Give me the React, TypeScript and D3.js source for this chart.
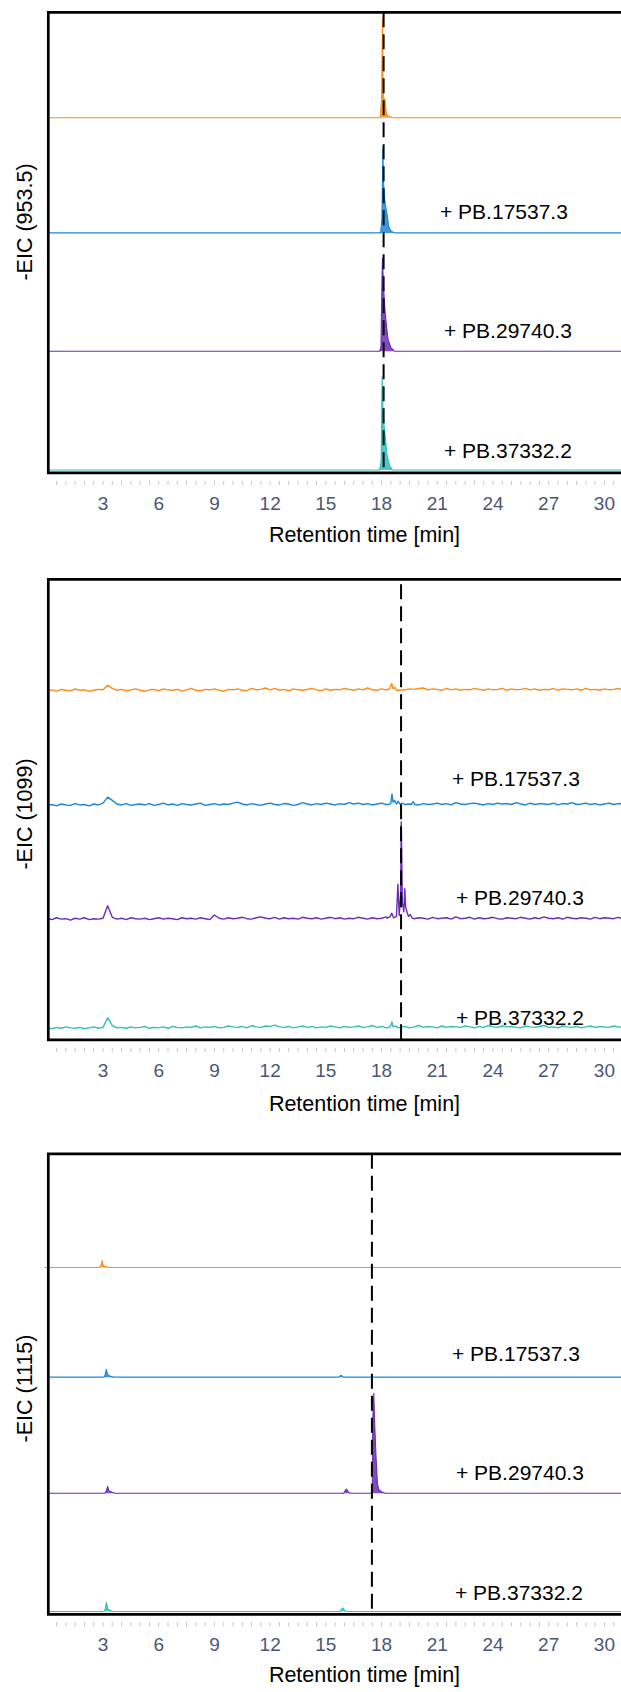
import React from "react";
import * as d3 from "d3";

// ---------- data ----------
const SAMPLE_LABELS = ["", "+ PB.17537.3", "+ PB.29740.3", "+ PB.37332.2"];
const SAMPLE_COLORS = ["#ff8c1a", "#1b87d6", "#6a2db5", "#30c0bd"];
const PANEL_TITLES = ["-EIC (953.5)", "-EIC (1099)", "-EIC (1115)"];
const X_TICKS = [3, 6, 9, 12, 15, 18, 21, 24, 27, 30];
const X_DOMAIN = [0, 34.2];
const MARKER_RT = [18.11, 19.05, 17.48];

// trace baseline levels (stack offsets, intensity units)
const P1_BASE = [771, 521, 264, 6];
const P2_BASE = [754, 506, 258, 22];
const P3_BASE = [753, 515, 263, 6];

// panel 1 peaks [rt, intensity above baseline]
const P1_PEAKS = [
  [[[17.93, 0], [18.0, 40], [18.05, 217], [18.08, 60], [18.12, 38], [18.18, 41], [18.24, 15], [18.32, 5], [18.45, 2], [18.6, 0]]],
  [[[17.95, 0], [18.02, 30], [18.07, 183], [18.1, 114], [18.15, 80], [18.22, 56], [18.3, 40], [18.38, 15], [18.5, 4], [18.7, 0]]],
  [[[17.9, 0], [17.97, 10], [18.02, 150], [18.05, 202], [18.1, 143], [18.18, 90], [18.25, 60], [18.35, 25], [18.5, 8], [18.7, 0]]],
  [[[17.9, 0], [17.98, 20], [18.03, 203], [18.08, 123], [18.15, 90], [18.22, 65], [18.3, 30], [18.45, 8], [18.6, 0]]],
];

// panel 2 noisy baselines, sampled every 0.25 min
const P2_STEP = 0.25;
const P2_NOISE_ORANGE = [4,6,3,7,5,4,8,5,6,3,5,7,6,16,9,5,7,4,6,8,5,3,6,7,4,8,6,5,7,3,6,9,5,4,7,6,8,5,3,7,6,8,5,4,9,6,7,10,6,9,5,7,4,8,6,5,7,9,6,4,8,5,7,6,9,7,5,8,6,10,6,5,8,6,7,9,5,6,8,7,9,10,6,8,7,5,9,6,8,5,7,6,9,7,5,8,6,7,9,5,8,6,7,9,6,8,5,7,6,9,5,8,7,6,8,5,9,6,7,5,8,6,7,9,5,8,6,7,5,8,6,7,9,6,8,5,7,6,8,5,7];
const P2_NOISE_BLUE = [3,5,2,6,4,3,7,4,5,2,6,4,8,21,14,6,4,7,3,5,6,4,7,3,5,8,4,6,3,7,5,4,6,8,3,5,7,4,6,5,8,10,6,4,7,5,3,6,8,5,4,7,6,3,5,9,6,4,7,5,8,6,4,7,5,9,6,8,5,7,4,6,8,5,7,6,9,5,6,8,4,7,5,6,8,5,7,4,9,6,5,7,8,6,4,7,5,8,6,7,5,9,6,4,8,5,7,6,5,8,4,7,6,9,5,6,8,5,7,4,6,8,5,7,6,5,8,6,4,7,5,8,6,7,5,6,8,5,7,4,6];
const P2_NOISE_PURPLE = [6,3,7,4,5,2,6,4,7,3,5,4,6,33,8,4,6,3,7,5,4,6,3,5,7,4,6,5,3,7,5,6,4,7,5,3,13,6,4,7,5,6,8,5,4,7,9,6,5,8,4,7,5,6,4,8,6,5,7,4,6,8,5,7,4,6,5,8,6,4,7,5,6,9,5,7,4,6,8,5,7,6,4,8,5,6,7,4,9,5,6,8,4,7,5,6,8,5,4,7,6,5,8,6,4,7,5,9,6,5,7,4,8,6,5,7,6,4,8,5,7,6,5,8,4,6,7,5,8,6,4,7,5,6,8,5,7];
const P2_NOISE_TEAL = [4,2,5,3,6,4,3,5,2,4,6,3,5,26,9,4,5,3,6,4,5,7,3,5,4,6,3,7,5,4,6,5,8,4,6,5,7,4,5,8,6,5,7,4,9,6,5,8,7,10,6,5,7,4,6,8,5,7,4,6,5,8,6,4,7,5,6,8,5,6,9,5,7,4,8,6,5,7,4,6,9,5,7,6,4,8,5,7,6,5,8,6,4,7,5,9,6,5,8,6,7,5,4,8,6,5,7,9,5,6,4,8,6,5,7,4,6,8,5,7,6,5,8,6,4,7,5,6,8,5,7,4,6,8,5,6];
const P2_NOISE = [P2_NOISE_ORANGE, P2_NOISE_BLUE, P2_NOISE_PURPLE, P2_NOISE_TEAL];
const P2_PEAKS = [
  [[[18.35, 6], [18.45, 10], [18.55, 20], [18.62, 8], [18.7, 12], [18.8, 5]]],
  [[[18.4, 5], [18.5, 8], [18.56, 28], [18.62, 10], [18.7, 14], [18.8, 6], [18.9, 12], [19.0, 5], [19.1, 8]], [[19.6, 5], [19.7, 11], [19.8, 5]]],
  [[[18.3, 6], [18.45, 9], [18.55, 17], [18.65, 7], [18.8, 10], [18.88, 80], [18.95, 12], [19.03, 60], [19.06, 215], [19.12, 40], [19.2, 20], [19.25, 70], [19.3, 30], [19.38, 18], [19.45, 10], [19.55, 14], [19.65, 6]]],
  [[[18.4, 5], [18.5, 9], [18.56, 17], [18.62, 6], [18.75, 8], [18.9, 4]]],
];

// panel 3 peaks
const P3_PEAKS = [
  [[[2.8, 0], [2.9, 6], [2.95, 15], [3.02, 4], [3.15, 2], [3.3, 0]]],
  [[[3.05, 0], [3.12, 6], [3.18, 17], [3.25, 5], [3.4, 2], [3.55, 0]], [[15.7, 0], [15.83, 4], [15.95, 0]]],
  [[[3.1, 0], [3.18, 5], [3.25, 15], [3.32, 5], [3.5, 2], [3.65, 0]], [[15.95, 0], [16.1, 9], [16.25, 1], [16.4, 0]],
   [[17.45, 0], [17.5, 6], [17.53, 160], [17.58, 217], [17.63, 150], [17.7, 80], [17.78, 20], [17.85, 8], [18.0, 3], [18.2, 0]]],
  [[[3.05, 0], [3.12, 5], [3.18, 20], [3.25, 6], [3.4, 2], [3.55, 0]], [[15.75, 0], [15.9, 8], [16.05, 1], [16.2, 0]]],
];

// ---------- layout ----------
const W = 621;
const H = 1692;
const PANEL_TOP = [12.3, 579.3, 1153.8];
const PANEL_H = 460.5;
const X_LEFT = 47.3;
const X_RIGHT = 682.4;
const LABEL_X = [[0, 440, 444, 444], [0, 452, 456, 456], [0, 452, 456, 455]];
const LABEL_DY = [0, 199.4, 318.4, 438.2];
const XLABEL_Y = [534, 1103, 1674];
const YLABEL_Y = [222, 814, 1388.5];
const FONT = "Liberation Sans, Arial, Helvetica, sans-serif";

type Pt = [number, number];

function buildTrace(base: number, peaks: Pt[][], noise?: number[], step = 0.25, start = 0): Pt[] {
  let pts: Pt[] = noise ? noise.map((v, i) => [i * step, v] as Pt) : [[start, 0], [X_DOMAIN[1], 0]];
  peaks.forEach((g) => {
    const a = g[0][0];
    const b = g[g.length - 1][0];
    pts = pts.filter(([t]) => t < a || t > b);
    pts = pts.concat(g.map((p) => [p[0], p[1]] as Pt));
  });
  pts.sort((p, q) => p[0] - q[0]);
  return pts.map(([t, v]) => [t, base + v] as Pt);
}

function Panel({ idx }: { idx: number }) {
  const top = PANEL_TOP[idx];
  const bottom = top + PANEL_H;
  const x = d3.scaleLinear().domain(X_DOMAIN).range([X_LEFT, X_RIGHT]);
  const y = d3.scaleLinear().domain([0, 1000]).range([bottom, top]);
  const bases = [P1_BASE, P2_BASE, P3_BASE][idx];
  const peaks = [P1_PEAKS, P2_PEAKS, P3_PEAKS][idx];

  const traces = bases.map((b, i) =>
    idx === 1
      ? buildTrace(b, peaks[i], P2_NOISE[i], P2_STEP)
      : buildTrace(b, peaks[i], undefined, 0.25, idx === 2 && i === 0 ? -0.15 : 0)
  );

  const line = d3.line<Pt>().x((d) => x(d[0])).y((d) => y(d[1]));
  const minorTicks = d3.range(0.5, X_DOMAIN[1], 0.5);
  const borderX = x(0) + 1;

  return (
    <g>
      {traces.map((pts, i) => {
        const area = d3
          .area<Pt>()
          .x((d) => x(d[0]))
          .y0(y(bases[i]))
          .y1((d) => y(d[1]));
        return (
          <g key={i}>
            {idx !== 1 && <path d={area(pts) || ""} fill={SAMPLE_COLORS[i]} fillOpacity={0.85} stroke="none" />}
            <path d={line(pts) || ""} fill="none" stroke={SAMPLE_COLORS[i]} strokeWidth={idx === 1 ? 1.4 : 1.1} strokeLinejoin="round" />
          </g>
        );
      })}
      <line
        x1={x(MARKER_RT[idx])}
        x2={x(MARKER_RT[idx])}
        y1={idx === 1 ? top + 5 : top}
        y2={bottom}
        stroke="#000"
        strokeWidth={2}
        strokeDasharray="15 7"
      />
      {SAMPLE_LABELS.map((s, i) =>
        s ? (
          <text key={i} x={LABEL_X[idx][i]} y={top + LABEL_DY[i] + 7.5} fontFamily={FONT} fontSize={21} fill="#000">
            {s}
          </text>
        ) : null
      )}
      <path
        d={`M${W + 20},${top} H${borderX} V${bottom} H${W + 20}`}
        fill="none"
        stroke="#000"
        strokeWidth={2.7}
      />
      {minorTicks.map((t) => (
        <line key={t} x1={x(t)} x2={x(t)} y1={bottom + 8} y2={bottom + 12} stroke="#c4c4c4" strokeWidth={1} />
      ))}
      {X_TICKS.map((t) => (
        <text
          key={t}
          x={x(t)}
          y={bottom + 37}
          textAnchor="middle"
          fontFamily={FONT}
          fontSize={19}
          fill="#4b5675"
        >
          {t}
        </text>
      ))}
      <text x={364.5} y={XLABEL_Y[idx] + 7.7} textAnchor="middle" fontFamily={FONT} fontSize={21.5} fill="#000">
        Retention time [min]
      </text>
      <text
        transform={`translate(25,${YLABEL_Y[idx]}) rotate(-90)`}
        textAnchor="middle"
        dominantBaseline="central"
        fontFamily={FONT}
        fontSize={21.5}
        fill="#000"
      >
        {PANEL_TITLES[idx]}
      </text>
    </g>
  );
}

export default function App() {
  return (
    <svg
      width={W}
      height={H}
      viewBox={`0 0 ${W} ${H}`}
      style={{ position: "absolute", left: 0, top: 0, background: "#fff", overflow: "hidden" }}
    >
      {[0, 1, 2].map((i) => (
        <Panel key={i} idx={i} />
      ))}
    </svg>
  );
}
